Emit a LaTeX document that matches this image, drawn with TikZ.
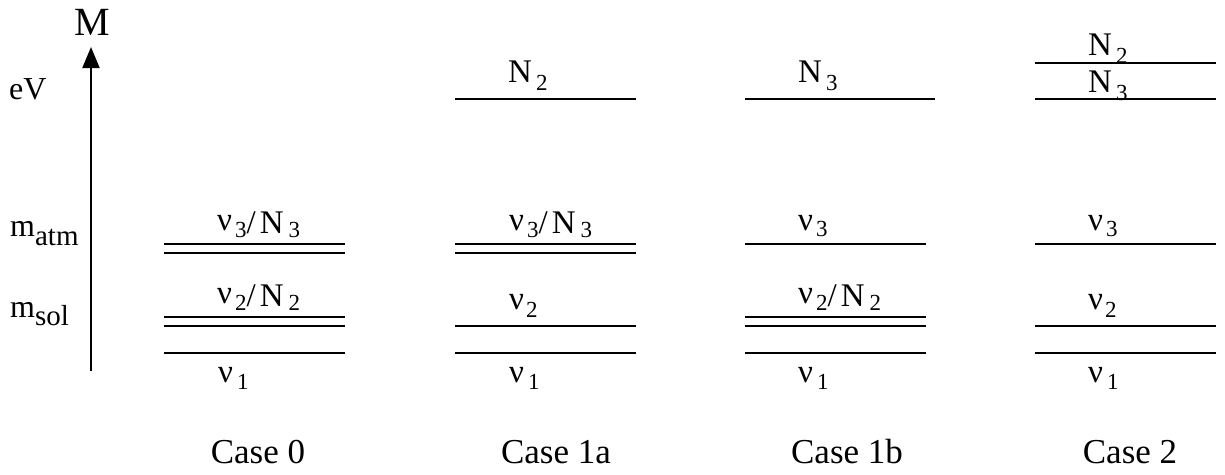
\documentclass[tikz,border=0pt]{standalone}
\usepackage{fontspec}
\setmainfont{Liberation Serif}
\usetikzlibrary{arrows.meta}

% lowered index digit
\newcommand{\idx}[2]{\raisebox{-#1pt}{\fontsize{23}{23}\selectfont #2}}
% slightly raised nu
\newcommand{\nuup}{\raisebox{3pt}{ν}}

\begin{document}
\begin{tikzpicture}[x=1pt, y=-1pt,
    level/.style={line width=1.9pt},
    lbl/.style={anchor=base west, inner sep=0pt,
                font=\fontsize{33}{33}\selectfont},
    axis/.style={anchor=base west, inner sep=0pt,
                 font=\fontsize{32}{32}\selectfont},
    caselbl/.style={anchor=base, inner sep=0pt,
                    font=\fontsize{35}{35}\selectfont},
    arrow/.style={line width=1.9pt,
                  -{Triangle[length=21pt, width=17pt]}}
]
\useasboundingbox (0,0) rectangle (1225,474);

% mass axis
\coordinate (axbot) at (91,371);
\coordinate (axtop) at (91,47);
\draw[arrow] (axbot) -- (axtop);
\node[anchor=base, inner sep=0pt, font=\fontsize{40}{40}\selectfont]
    (mlbl) at (92.5,35) {M};
\node[axis] (ev) at (9,99) {eV};
\node[axis] (matm) at (10,236)
    {m\raisebox{-9pt}{\fontsize{29}{29}\selectfont atm}};
\node[axis] (msol) at (10,317)
    {m\raisebox{-8pt}{\fontsize{29}{29}\selectfont sol}};

% Case 0
\foreach \y in {244,253,317,326,353}
    \draw[level] (164,\y) -- (345,\y);
\node[lbl] (c0nu3) at (217,233)
    {\nuup\kern3pt\idx{4}{3}/\kern4pt N\kern5pt\idx{4}{3}};
\node[lbl] (c0nu2) at (217,306)
    {\nuup\kern3pt\idx{4}{2}/\kern4pt N\kern5pt\idx{4}{2}};
\node[lbl] (c0nu1) at (218,382) {ν\kern4pt\idx{7}{1}};

% Case 1a
\foreach \y in {99,244,253,326,353}
    \draw[level] (455,\y) -- (636,\y);
\node[lbl] (c1aN2)  at (508,82)  {N\kern4pt\idx{8}{2}};
\node[lbl] (c1anu3) at (509,233)
    {\nuup\kern3pt\idx{4}{3}/\kern4pt N\kern5pt\idx{4}{3}};
\node[lbl] (c1anu2) at (509,309) {ν\kern2pt\idx{8}{2}};
\node[lbl] (c1anu1) at (509,382) {ν\kern4pt\idx{7}{1}};

% Case 1b
\draw[level] (745,99) -- (935,99);
\foreach \y in {244,317,326,353}
    \draw[level] (745,\y) -- (926,\y);
\node[lbl] (c1bN3)  at (798,82)  {N\kern4pt\idx{8}{3}};
\node[lbl] (c1bnu3) at (798,230) {ν\kern3pt\idx{6}{3}};
\node[lbl] (c1bnu2) at (798,306)
    {\nuup\kern3pt\idx{4}{2}/\kern4pt N\kern5pt\idx{4}{2}};
\node[lbl] (c1bnu1) at (798,382) {ν\kern4pt\idx{7}{1}};

% Case 2
\foreach \y in {63,99,244,326,353}
    \draw[level] (1035,\y) -- (1216,\y);
\node[lbl] (c2N2)  at (1088,55)  {N\kern4pt\idx{8}{2}};
\node[lbl] (c2N3)  at (1088,92)  {N\kern4pt\idx{8}{3}};
\node[lbl] (c2nu3) at (1088,230) {ν\kern3pt\idx{6}{3}};
\node[lbl] (c2nu2) at (1088,309) {ν\kern2pt\idx{8}{2}};
\node[lbl] (c2nu1) at (1088,382) {ν\kern4pt\idx{7}{1}};

% case names
\node[caselbl] (case0)  at (258,463)  {Case 0};
\node[caselbl] (case1a) at (556,463)  {Case 1a};
\node[caselbl] (case1b) at (847,463)  {Case 1b};
\node[caselbl] (case2)  at (1130,463) {Case 2};
\end{tikzpicture}
\end{document}
